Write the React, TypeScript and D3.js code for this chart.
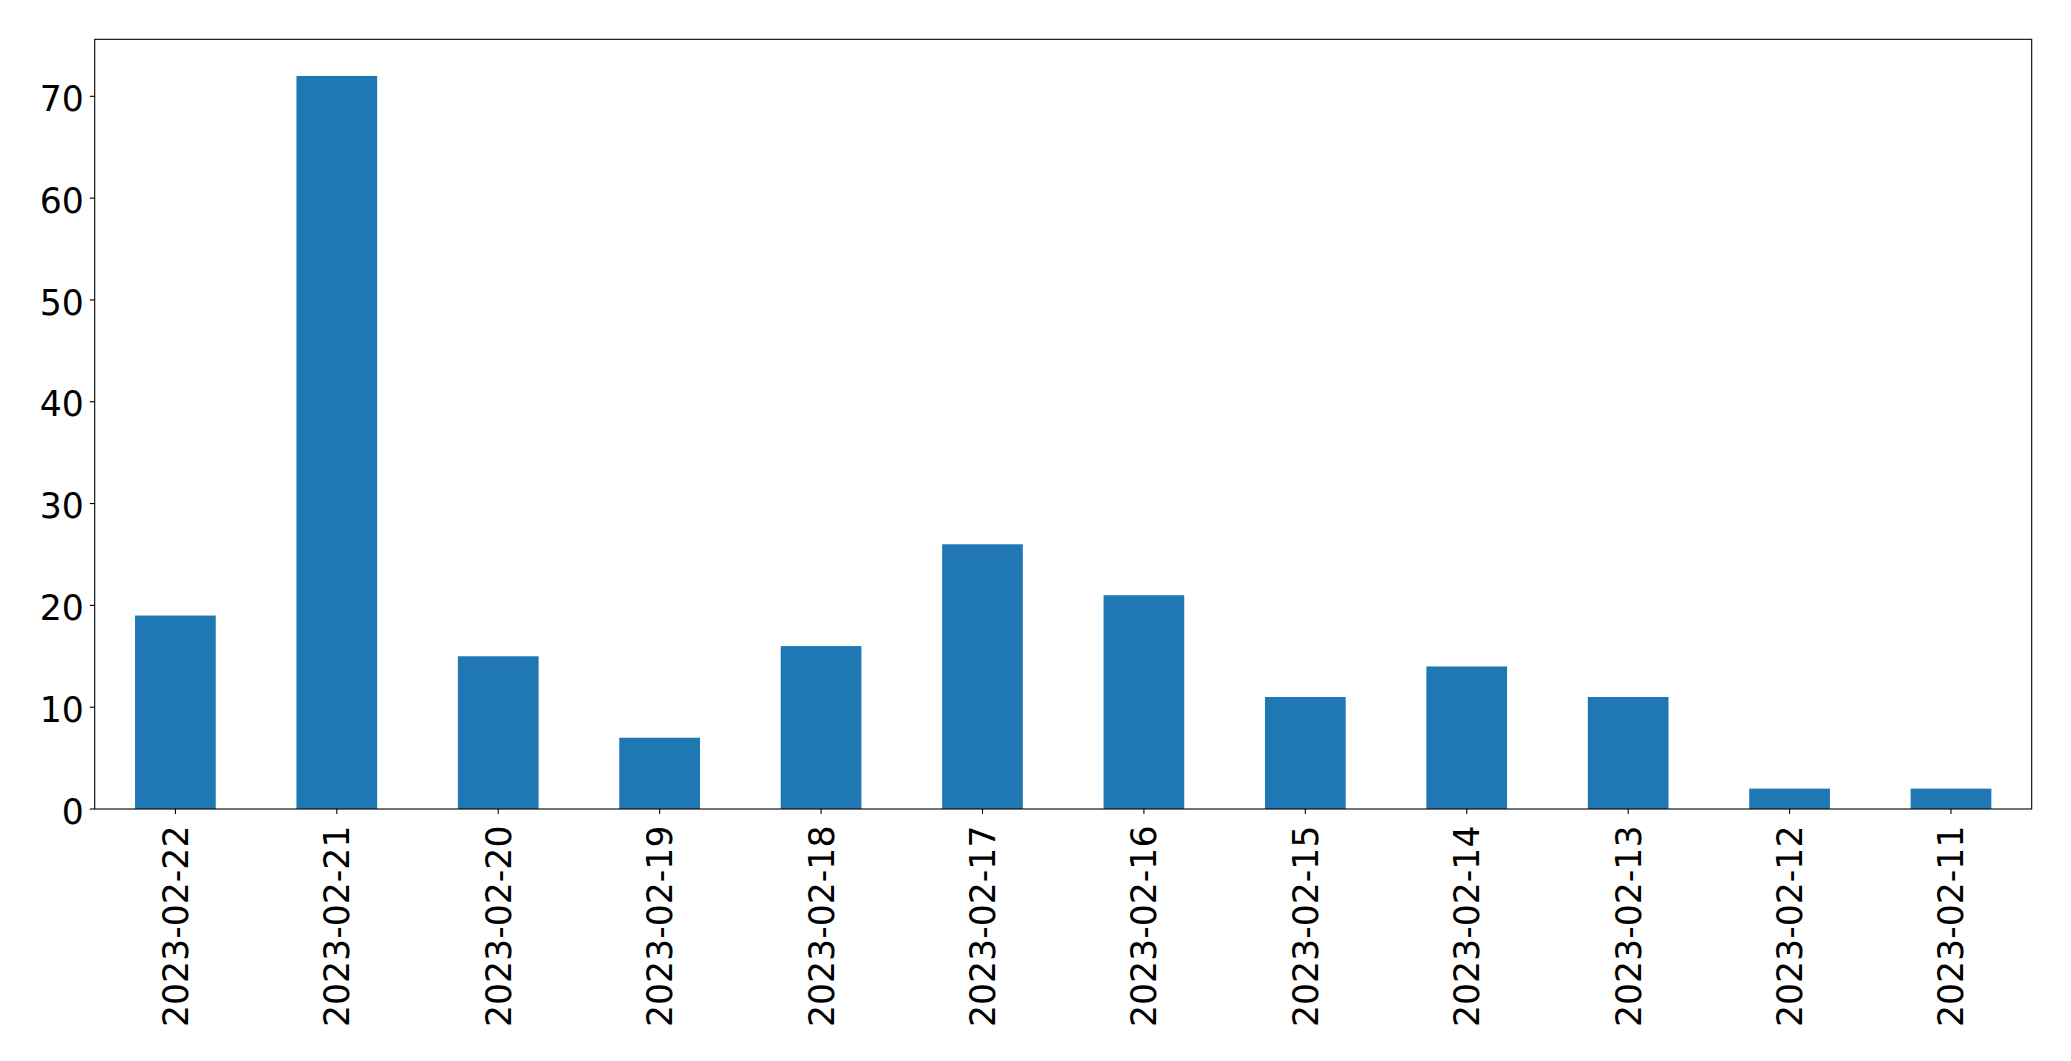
import React from "react";
import * as d3 from "d3";

const categories = [
  "2023-02-22", "2023-02-21", "2023-02-20", "2023-02-19", "2023-02-18", "2023-02-17",
  "2023-02-16", "2023-02-15", "2023-02-14", "2023-02-13", "2023-02-12", "2023-02-11",
];
const values = [19, 72, 15, 7, 16, 26, 21, 11, 14, 11, 2, 2];
const yTicks = [0, 10, 20, 30, 40, 50, 60, 70];

const W = 2071;
const H = 1061;
const M = { left: 94.7, right: 2031.7, top: 39.3, bottom: 809 };
const FONT = "'DejaVu Sans', sans-serif";
const FS = 34.7;

export default function App() {
  const x = d3
    .scaleBand<string>()
    .domain(categories)
    .range([M.left, M.right])
    .paddingInner(0.5)
    .paddingOuter(0.25);
  const y = d3
    .scaleLinear()
    .domain([0, d3.max(values)! * 1.05])
    .range([M.bottom, M.top]);
  const tickLen = 4.9;
  return (
    <svg
      width={W}
      height={H}
      style={{ position: "absolute", left: 0, top: 0, background: "#fff" }}
      fontFamily={FONT}
    >
      <rect x={0} y={0} width={W} height={H} fill="#fff" />
      {values.map((v, i) => (
        <rect
          key={categories[i]}
          x={x(categories[i])}
          y={y(v)}
          width={x.bandwidth()}
          height={y(0) - y(v)}
          fill="#1f77b4"
        />
      ))}
      <rect
        x={M.left}
        y={M.top}
        width={M.right - M.left}
        height={M.bottom - M.top}
        fill="none"
        stroke="#000"
        strokeWidth={1.1}
      />
      {yTicks.map((t) => (
        <g key={t}>
          <line x1={M.left - tickLen} x2={M.left} y1={y(t)} y2={y(t)} stroke="#000" strokeWidth={1.1} />
          <text
            x={M.left - tickLen - 6}
            y={y(t)}
            dy="0.42em"
            textAnchor="end"
            fontSize={FS}
            fill="#000"
          >
            {t}
          </text>
        </g>
      ))}
      {categories.map((c) => {
        const cx = x(c)! + x.bandwidth() / 2;
        return (
          <g key={c}>
            <line x1={cx} x2={cx} y1={M.bottom} y2={M.bottom + tickLen} stroke="#000" strokeWidth={1.1} />
            <text
              transform={`translate(${cx},${M.bottom + 16.5}) rotate(-90)`}
              dy="0.36em"
              textAnchor="end"
              fontSize={FS}
              fill="#000"
            >
              {c}
            </text>
          </g>
        );
      })}
    </svg>
  );
}
